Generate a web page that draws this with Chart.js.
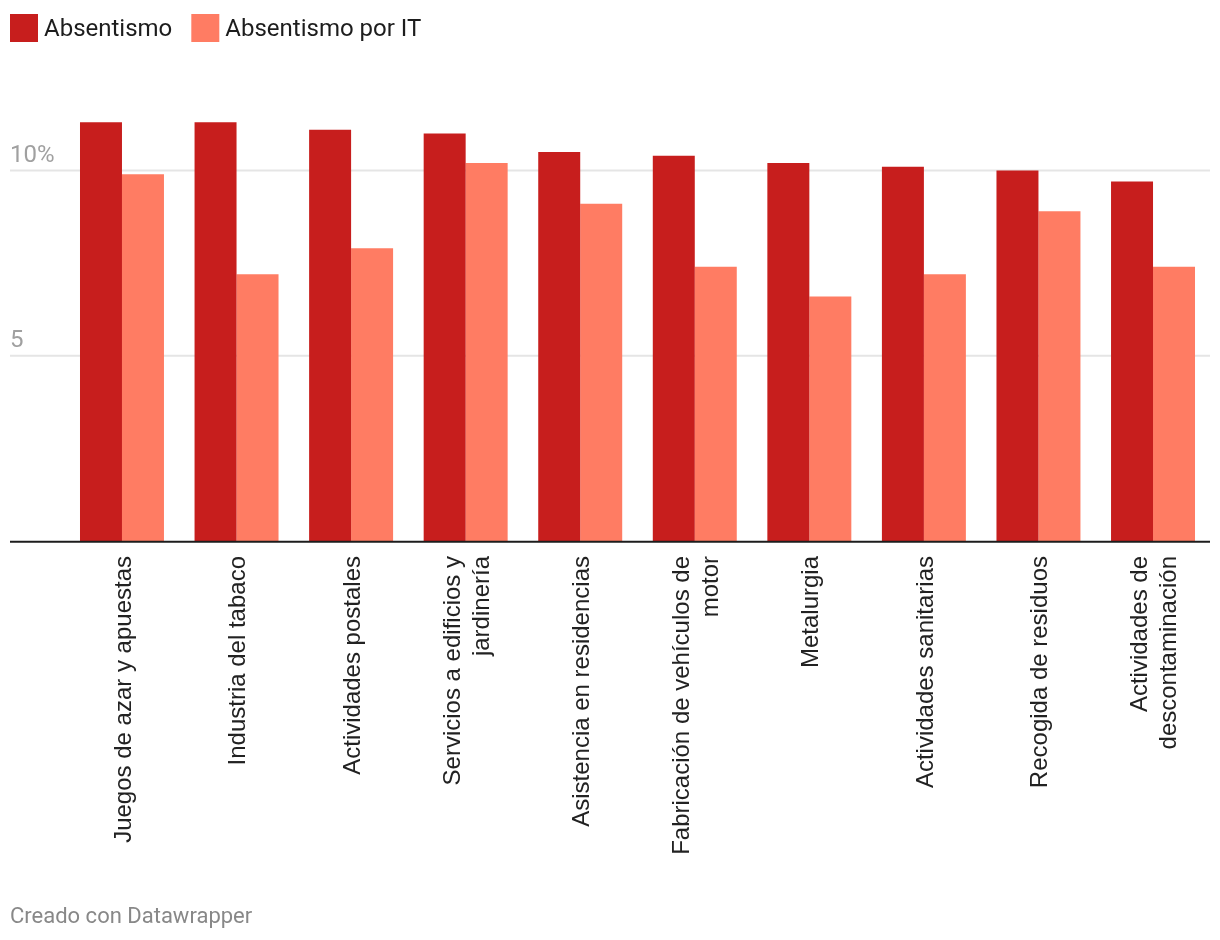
<!DOCTYPE html>
<html>
<head>
<meta charset="utf-8">
<script src="https://cdn.jsdelivr.net/npm/chart.js@4/dist/chart.umd.min.js"></script>
<style>
  html, body { margin: 0; padding: 0; background: #fff; }
  #wrap { width: 1220px; height: 940px; position: relative; }
</style>
</head>
<body>
<div id="wrap"><canvas id="c" width="1220" height="940"></canvas></div>
<script>
// ---- Data ----
const categories = [
  "Juegos de azar y apuestas",
  "Industria del tabaco",
  "Actividades postales",
  ["Servicios a edificios y", "jardinería"],
  "Asistencia en residencias",
  ["Fabricación de vehículos de", "motor"],
  "Metalurgia",
  "Actividades sanitarias",
  "Recogida de residuos",
  ["Actividades de", "descontaminación"]
];
const absentismo = [11.3, 11.3, 11.1, 11.0, 10.5, 10.4, 10.2, 10.1, 10.0, 9.7];
const absentismoIT = [9.9, 7.2, 7.9, 10.2, 9.1, 7.4, 6.6, 7.2, 8.9, 7.4];
const seriesNames = ["Absentismo", "Absentismo por IT"];
const yTickValues = [5, 10];
const yTickLabels = ["5", "10%"];
const footerText = "Creado con Datawrapper";

const colors = ["#c71e1d", "#ff7c63"];

const decor = {
  id: "decor",
  beforeDatasetsDraw(chart) {
    const ctx = chart.ctx;
    const y = chart.scales.y;
    ctx.save();
    yTickValues.forEach((v, i) => {
      const py = y.getPixelForValue(v);
      ctx.strokeStyle = "#e5e5e5";
      ctx.lineWidth = 2;
      ctx.beginPath();
      ctx.moveTo(10, py);
      ctx.lineTo(1210, py);
      ctx.stroke();
      ctx.fillStyle = "#a0a0a0";
      ctx.font = "24px Roboto";
      ctx.textAlign = "left";
      ctx.textBaseline = "alphabetic";
      ctx.fillText(yTickLabels[i], 10, py - 9);
    });
    ctx.restore();
  },
  afterDraw(chart) {
    const ctx = chart.ctx;
    const x = chart.scales.x;
    const y = chart.scales.y;
    ctx.save();
    // baseline
    const p0 = y.getPixelForValue(0);
    ctx.strokeStyle = "#1d1d1d";
    ctx.lineWidth = 2;
    ctx.beginPath();
    ctx.moveTo(10, p0 + 0.7);
    ctx.lineTo(1210, p0 + 0.7);
    ctx.stroke();
    // category labels
    ctx.fillStyle = "#222";
    ctx.font = "24px 'Liberation Sans'";
    ctx.textAlign = "right";
    ctx.textBaseline = "middle";
    const lh = 29;
    categories.forEach((c, i) => {
      const lines = Array.isArray(c) ? c : [c];
      const px = x.getPixelForValue(i);
      lines.forEach((ln, j) => {
        const off = (j - (lines.length - 1) / 2) * lh;
        ctx.save();
        ctx.translate(px + off + 2, 556);
        ctx.rotate(-Math.PI / 2);
        ctx.fillText(ln, 0, 0);
        ctx.restore();
      });
    });
    // legend
    ctx.font = "24px Roboto";
    ctx.textAlign = "left";
    ctx.textBaseline = "alphabetic";
    let lx = 10;
    seriesNames.forEach((n, i) => {
      ctx.fillStyle = colors[i];
      ctx.fillRect(lx, 14, 28, 28);
      ctx.fillStyle = "#1d1d1d";
      ctx.fillText(n, lx + 34, 36);
      lx = lx + 34 + ctx.measureText(n).width + 19;
    });
    // footer
    ctx.font = "22px Roboto";
    ctx.fillStyle = "#888";
    ctx.fillText(footerText, 10, 923);
    ctx.restore();
  }
};

new Chart(document.getElementById("c"), {
  type: "bar",
  data: {
    labels: categories,
    datasets: [
      { label: seriesNames[0], data: absentismo, backgroundColor: colors[0], categoryPercentage: 0.733, barPercentage: 1.0 },
      { label: seriesNames[1], data: absentismoIT, backgroundColor: colors[1], categoryPercentage: 0.733, barPercentage: 1.0 }
    ]
  },
  options: {
    responsive: false,
    devicePixelRatio: 1,
    animation: false,
    layout: { padding: { left: 64.7, right: 9.7, top: 96.4, bottom: 399 } },
    plugins: { legend: { display: false }, tooltip: { enabled: false } },
    scales: {
      x: { display: false },
      y: { display: false, min: 0, max: 12 }
    }
  },
  plugins: [decor]
});
</script>
</body>
</html>
